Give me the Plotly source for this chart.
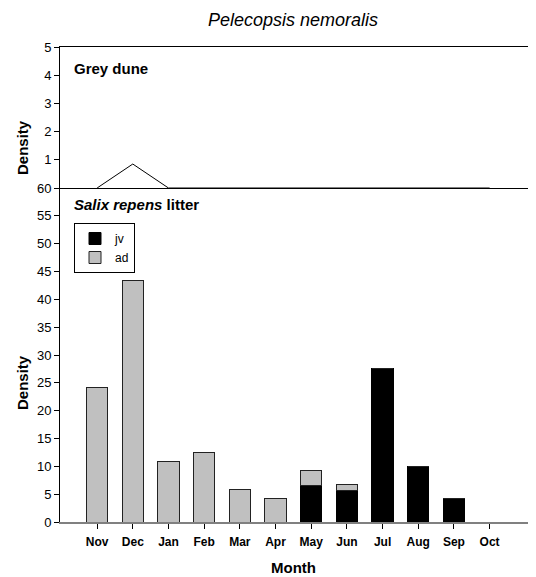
import plotly.graph_objects as go

months = ["Nov", "Dec", "Jan", "Feb", "Mar", "Apr", "May", "Jun", "Jul", "Aug", "Sep", "Oct"]
grey_dune = [0, 0.85, 0, 0, 0, 0, 0, 0, 0, 0, 0, 0]
salix_jv = [0, 0, 0, 0, 0, 0, 6.6, 5.7, 27.5, 10.0, 4.2, 0]
salix_ad = [24.2, 43.3, 10.8, 12.5, 5.8, 4.2, 2.6, 1.0, 0, 0, 0, 0]
top_ticks = [1, 2, 3, 4, 5]
bottom_ticks = list(range(0, 61, 5))

FONT = "Liberation Sans, Arial, sans-serif"
fig = go.Figure()

fig.add_trace(go.Bar(x=months, y=salix_jv, name="jv", marker=dict(color="black", line=dict(color="black", width=1)),
                     width=0.6, xaxis="x", yaxis="y"))
fig.add_trace(go.Bar(x=months, y=salix_ad, name="ad", marker=dict(color="#c0c0c0", line=dict(color="#222222", width=1)),
                     width=0.6, xaxis="x", yaxis="y"))
fig.add_trace(go.Scatter(x=months, y=grey_dune, mode="lines", line=dict(color="black", width=1),
                         showlegend=False, xaxis="x2", yaxis="y2", cliponaxis=False))

# page body has an 8px margin; figure placed so that plot area spans screen x 60..536, y 47..522
PW, PH = 476, 475


def px(sx):
    return (sx - 60) / PW


def py(sy):
    return (522 - sy) / PH


def label(text, sx, sy, size, xanchor="center", angle=0):
    return dict(text=text, x=px(sx), y=py(sy), xref="paper", yref="paper", xanchor=xanchor,
                yanchor="middle", showarrow=False, textangle=angle, font=dict(size=size))


xr = [-1.04, 12.3]
split = 334 / 475
fig.update_layout(
    width=528, height=569,
    margin=dict(l=52, r=0, t=39, b=55),
    plot_bgcolor="white", paper_bgcolor="white",
    barmode="stack",
    font=dict(family=FONT, size=13, color="black"),
    showlegend=True,
    legend=dict(x=px(74), y=py(223), xanchor="left", yanchor="top", traceorder="normal",
                bordercolor="black", borderwidth=1, bgcolor="white",
                font=dict(size=12), itemwidth=30, tracegroupgap=0),
    xaxis=dict(type="category", categoryarray=months, range=xr, showline=True, linecolor="#808080", linewidth=1.5,
               ticks="outside", ticklen=5, tickcolor="black", tickfont=dict(size=12, family=FONT),
               ticklabelstandoff=3,
               tickprefix="<b>", ticksuffix="</b>", showgrid=False, zeroline=False, anchor="y"),
    yaxis=dict(domain=[0, split], range=[0, 60], tickvals=bottom_ticks, showline=True, linecolor="black",
               linewidth=1, ticks="outside", ticklen=5, tickcolor="black", showgrid=False, zeroline=False,
               tickfont=dict(size=13), anchor="x"),
    xaxis2=dict(type="category", categoryarray=months, range=xr, showline=True, linecolor="black", linewidth=1,
                mirror=True, showticklabels=False, ticks="", showgrid=False, zeroline=False, anchor="y2"),
    yaxis2=dict(domain=[split, 1], range=[0, 5], tickvals=top_ticks, showline=True, linecolor="black",
                linewidth=1, ticks="outside", ticklen=5, tickcolor="black", showgrid=False, zeroline=False,
                tickfont=dict(size=13), anchor="x2"),
    annotations=[
        label("<i>Pelecopsis nemoralis</i>", 293, 20, 18),
        label("<b>Grey dune</b>", 72, 69, 15, xanchor="left"),
        label("<b><i>Salix repens</i> litter</b>", 72, 205, 15, xanchor="left"),
        label("<b>Density</b>", 22, 148, 15, angle=-90),
        label("<b>Density</b>", 22, 383, 15, angle=-90),
        label("<b>Month</b>", 293, 567, 15),
    ],
)

fig.write_html("out.html")
